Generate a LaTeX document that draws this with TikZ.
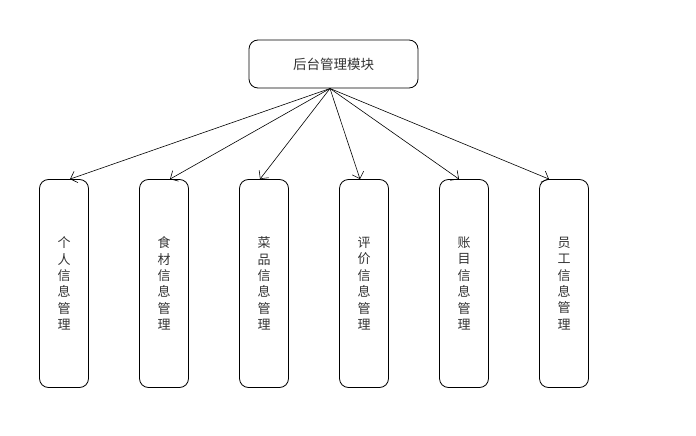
\documentclass[tikz,border=0pt]{standalone}
\usepackage{fontspec}
\newfontfamily\cjk{Noto Sans CJK SC}
\usetikzlibrary{arrows.meta}
\begin{document}
\begin{tikzpicture}[x=1pt,y=-1pt,
  topbox/.style={draw, line width=0.8pt, rounded corners=9pt, minimum width=169pt, minimum height=48pt, inner sep=0pt, font=\cjk\fontsize{13.5}{15}\selectfont, text=black!80},
  subbox/.style={draw, line width=0.8pt, rounded corners=9pt, minimum width=49pt, minimum height=208pt, inner sep=0pt, align=center, font=\cjk\fontsize{13}{16.4}\selectfont, text=black!80},
  link/.style={line width=0.6pt, -{Straight Barb[length=6pt,width=12pt]}}]
\useasboundingbox (0,0) rectangle (696,436);
\node[topbox] (top) at (333.5,64) {后台管理模块};
\coordinate (src) at (330,88.5);
\node[subbox] (b1) at (64,283.5) {个\\人\\信\\息\\管\\理};
\node[subbox] (b2) at (164,283.5) {食\\材\\信\\息\\管\\理};
\node[subbox] (b3) at (264,283.5) {菜\\品\\信\\息\\管\\理};
\node[subbox] (b4) at (364,283.5) {评\\价\\信\\息\\管\\理};
\node[subbox] (b5) at (464,283.5) {账\\目\\信\\息\\管\\理};
\node[subbox] (b6) at (564,283.5) {员\\工\\信\\息\\管\\理};
\draw[link] (src) -- ([xshift=6pt]b1.north);
\draw[link] (src) -- ([xshift=6pt]b2.north);
\draw[link] (src) -- ([xshift=-4pt]b3.north);
\draw[link] (src) -- ([xshift=-4pt]b4.north);
\draw[link] (src) -- ([xshift=-5pt]b5.north);
\draw[link] (src) -- ([xshift=-15pt]b6.north);
\end{tikzpicture}
\end{document}
